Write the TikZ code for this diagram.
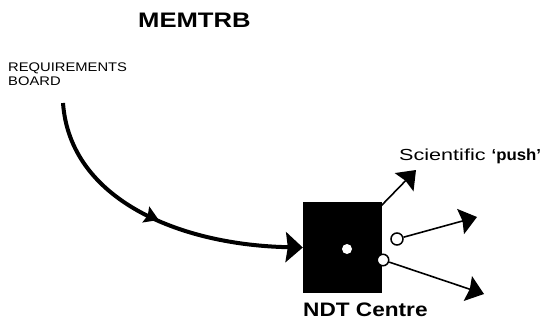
\documentclass[tikz,border=0pt]{standalone}
\usepackage{fontspec}
\setmainfont{Liberation Sans}
\newfontfamily\titlefont[FakeStretch=1.22]{Liberation Sans Bold}
\newfontfamily\reqfont[FakeStretch=1.18]{Liberation Sans}
\newfontfamily\scifont[FakeStretch=1.35]{Liberation Sans}
\newfontfamily\pushfont[FakeStretch=1.05]{Liberation Sans Bold}
\newfontfamily\ndtfont[FakeStretch=1.16]{Liberation Sans Bold}
\usetikzlibrary{arrows.meta,decorations.markings}
\tikzset{
  bigtip/.tip={Stealth[length=17pt 0 0,width=26pt 0 0,inset=2pt 0]},
  maintip/.tip={Stealth[length=17pt 0 0,width=30pt 0 0,inset=2pt 0]},
  midtip/.tip={Stealth[length=14pt 0 0,width=17pt 0 0,inset=2pt 0]},
  thinarrow/.style={line width=1.6pt,-{bigtip}},
  ring/.style={circle,draw=black,line width=1.5pt,fill=white,minimum size=12pt,inner sep=0pt},
  label/.style={inner sep=0pt,text=black}
}
\begin{document}
\begin{tikzpicture}[x=1pt,y=-1pt]
\useasboundingbox (0,0) rectangle (545,321);
% texts
\node[label,anchor=base west,font=\fontsize{21}{24}\titlefont] (title) at (138,28) {MEMTRB};
\node[label,anchor=north west,align=left,font=\fontsize{12.5}{14.3}\reqfont] (req) at (8,62.7)
  {REQUIREMENTS\\BOARD};
\node[label,anchor=base west,font=\fontsize{16}{19}\scifont] (sci) at (399,160)
  {Scientific {\pushfont\textquoteleft push\textquoteright}};
\node[label,anchor=base west,font=\fontsize{19.5}{22}\ndtfont] (ndtlabel) at (303,316) {NDT Centre};
% centre box
\node[fill=black,minimum width=79pt,minimum height=91pt,inner sep=0pt] (ndt) at (342.5,247.5) {};
\node[circle,fill=white,minimum size=10pt,inner sep=0pt] (dot) at (347,249) {};
\node[ring] (c1) at (397,239) {};
\node[ring,minimum size=11.5pt] (c2) at (383,260) {};
% coordinates
\coordinate (rb) at (63,103);
\coordinate (a1s) at (380,207);
\coordinate (t1) at (416,170);
\coordinate (t2) at (477,217);
\coordinate (t3) at (484,294);
% main curve
\draw[line width=4pt,-{maintip},
  postaction={decorate,decoration={markings,mark=at position 0.52 with {\arrow{midtip}}}}]
  (rb) .. controls (70,200) and (180,245) .. (ndt.west);
% outgoing arrows
\draw[thinarrow] (a1s) -- (t1);
\draw[thinarrow] (c1) -- (t2);
\draw[thinarrow] (c2) -- (t3);
\end{tikzpicture}
\end{document}
